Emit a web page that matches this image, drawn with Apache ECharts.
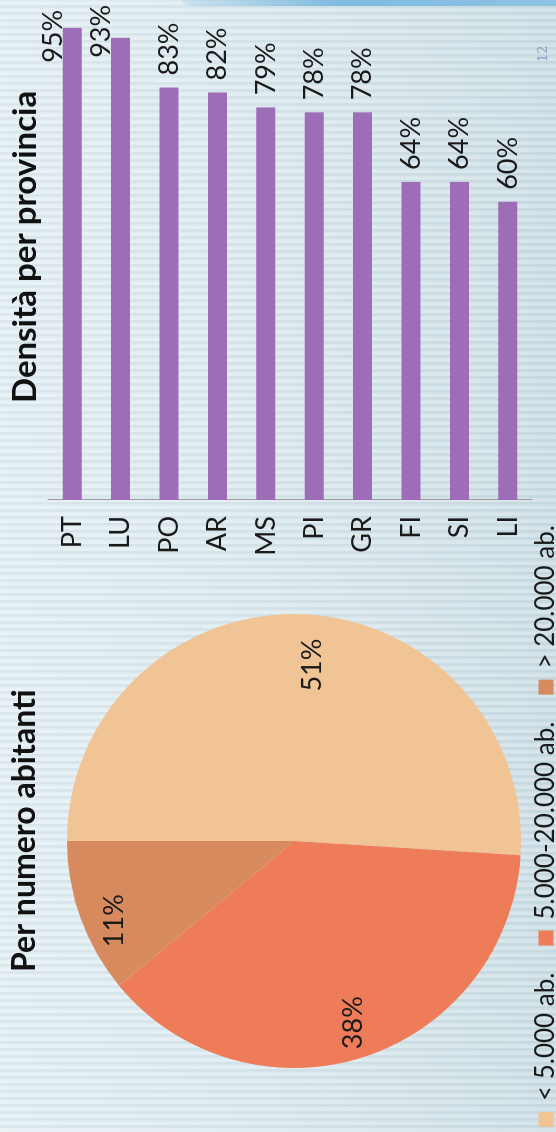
<!DOCTYPE html>
<html>
<head>
<meta charset="utf-8">
<script src="https://cdn.jsdelivr.net/npm/echarts@6/dist/echarts.min.js"></script>
<style>
html,body{margin:0;padding:0;width:556px;height:1132px;overflow:hidden;}
#bg{position:absolute;left:0;top:0;width:556px;height:1132px;
  background:
    repeating-linear-gradient(0deg, rgba(255,255,255,0.22) 0px, rgba(255,255,255,0.22) 3px, rgba(140,165,175,0.10) 5px, rgba(140,165,175,0.10) 7px),
    linear-gradient(to right, #e3eff4 0%, #dbe9ef 45%, #cbdde4 100%);}
#band{position:absolute;left:180px;top:-6px;width:400px;height:12px;border-radius:0 0 0 60px;
  background:linear-gradient(to right, rgba(125,185,222,0.2), #7fbbe0 40%, #8fc4e4);}
#chart{position:absolute;left:0;top:0;width:1132px;height:556px;transform-origin:0 0;transform:translate(0,1132px) rotate(-90deg);}
</style>
</head>
<body>
<div id="bg"></div>
<div id="band"></div>
<div id="chart"></div>
<script>
// ---- data ----
const categories = ['PT','LU','PO','AR','MS','PI','GR','FI','SI','LI'];
const density = [95,93,83,82,79,78,78,64,64,60];
const sizeClasses = ['< 5.000 ab.', '5.000-20.000 ab.', '> 20.000 ab.'];
const sizeShares = [51, 38, 11];
const pageNumber = '12';

// ---- styles ----
const FONT = 'Lato, "Open Sans", sans-serif';
const pieColors = ['#F1C496', '#EE7C58', '#D78A5E'];
const barColor = '#9D6DB7';
const labelNudge = { PT: [-47, -19], LU: [-32, -19] };
const pieLabelNudge = { '< 5.000 ab.': [-15, 12], '> 20.000 ab.': [-15, 0] };

const chart = echarts.init(document.getElementById('chart'), null, {renderer: 'canvas'});

const barData = density.map((v, i) => {
  const item = { value: v };
  const n = labelNudge[categories[i]];
  if (n) item.label = { offset: n };
  return item;
});
const pieData = sizeClasses.map((name, i) => ({ name, value: sizeShares[i], itemStyle: { color: pieColors[i] } }));
const pieLabelData = sizeClasses.map((name, i) => ({ name, value: sizeShares[i] }));

chart.setOption({
  backgroundColor: 'transparent',
  animation: false,
  title: [
    { text: 'Per numero abitanti', left: 155, top: 4,
      textStyle: { fontFamily: FONT, fontWeight: 'bold', fontSize: 32, color: '#111' } },
    { text: 'Densità per provincia', left: 724, top: 4,
      textStyle: { fontFamily: FONT, fontWeight: 'bold', fontSize: 33, color: '#111' } }
  ],
  legend: {
    data: sizeClasses,
    left: 0, top: 528,
    icon: 'rect', itemWidth: 15, itemHeight: 15, itemGap: 27,
    selectedMode: false,
    textStyle: { fontFamily: FONT, fontSize: 26, color: '#1a1a1a', padding: [0, 0, 0, 6] }
  },
  grid: { left: 632, right: 3, top: 48, height: 484, containLabel: false },
  xAxis: { type: 'value', min: 0, max: 100, show: false, splitLine: { show: false } },
  yAxis: {
    type: 'category', data: categories, inverse: true,
    axisLine: { show: true, lineStyle: { color: '#9a9a9a', width: 1 } },
    axisTick: { show: false },
    axisLabel: { fontFamily: FONT, fontSize: 27, color: '#1a1a1a', margin: 16 }
  },
  series: [
    {
      type: 'bar', data: barData, barWidth: 19,
      itemStyle: { color: barColor },
      label: { show: true, position: 'right', distance: 12, formatter: '{c}%',
        fontFamily: FONT, fontSize: 27, color: '#1a1a1a' }
    },
    {
      type: 'pie', center: [291, 294], radius: 227, startAngle: 90, clockwise: true,
      data: pieData, label: { show: false }, labelLine: { show: false }, silent: true,
      itemStyle: { borderWidth: 0 }
    },
    {
      type: 'pie', center: [291, 294], radius: [150, 226], startAngle: 90, clockwise: true,
      data: pieLabelData, silent: true, legendHoverLink: false,
      itemStyle: { color: 'rgba(0,0,0,0)', borderWidth: 0 },
      label: { show: true, position: 'inside', formatter: '{c}%',
        fontFamily: FONT, fontSize: 27, color: '#1a1a1a' },
      labelLine: { show: false },
      labelLayout: function (p) {
        const n = pieLabelNudge[sizeClasses[p.dataIndex]];
        return n ? { dx: n[0], dy: n[1] } : {};
      }
    }
  ],
  graphic: [
    { type: 'text', x: 1070, y: 537,
      style: { text: pageNumber, font: '13px "DejaVu Serif", serif', fill: '#8d9bc7' } }
  ]
});
</script>
</body>
</html>
